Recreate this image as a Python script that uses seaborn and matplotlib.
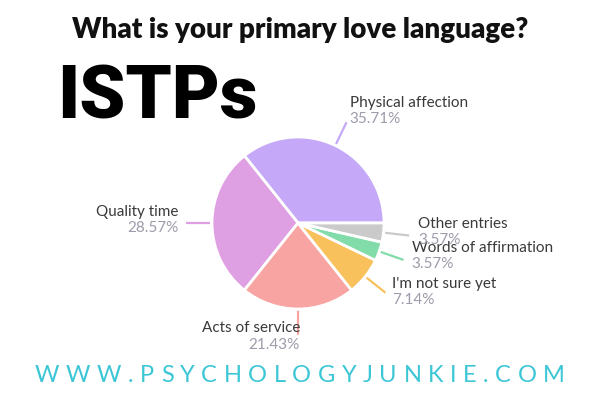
import numpy as np
import matplotlib
matplotlib.use("Agg")
import matplotlib.pyplot as plt
import seaborn as sns

# data
labels = ["Physical affection", "Quality time", "Acts of service",
          "I'm not sure yet", "Words of affirmation", "Other entries"]
shares = [35.71, 28.57, 21.43, 7.14, 3.57, 3.57]
colors = ["#c5a8f7", "#dea0e2", "#f8a4a2", "#f9c15c", "#82dca9", "#cacaca"]

title = "What is your primary love language?"
big_label = "ISTPs"
footer = "WWW.PSYCHOLOGYJUNKIE.COM"

# label text offsets (pixels) relative to leader line end: (dx, dy_name, dy_pct, ha)
label_layout = [
    (3, 19, 3, "left"),
    (-8, 11, -5, "right"),
    (2, 7, -10, "right"),
    (7, 9, -7, "left"),
    (8, 12, -4, "left"),
    (9, 12, -4, "left"),
]

sns.set_theme(style="white")
plt.rcParams["font.family"] = ["Lato", "DejaVu Sans"]

fig = plt.figure(figsize=(6, 4), dpi=100)
fig.patch.set_facecolor("white")

# pie axes: center (298, 223) px, radius 86 px
ax = fig.add_axes([(298 - 86) / 600, (177 - 86) / 400, 172 / 600, 172 / 400])
wedges, _ = ax.pie(shares, colors=colors, startangle=0, counterclock=True,
                   radius=1, wedgeprops=dict(edgecolor="white", linewidth=2))
ax.set_xlim(-1, 1)
ax.set_ylim(-1, 1)
ax.set_aspect("equal")
ax.axis("off")

for w, lab, val, col, (dx, dyn, dyp, ha) in zip(wedges, labels, shares, colors, label_layout):
    mid = np.deg2rad((w.theta1 + w.theta2) / 2)
    x0, y0 = np.cos(mid), np.sin(mid)
    x1, y1 = 1.3 * x0, 1.3 * y0
    ax.plot([1.02 * x0, x1], [1.02 * y0, y1], color=col, lw=1.6,
            clip_on=False, solid_capstyle="butt")
    ax.annotate(lab, (x1, y1), xytext=(dx, dyn), textcoords="offset pixels",
                ha=ha, va="center", fontsize=11, color="#3a3a3a",
                annotation_clip=False)
    ax.annotate(f"{val:.2f}%", (x1, y1), xytext=(dx, dyp), textcoords="offset pixels",
                ha=ha, va="center", fontsize=11, color="#9c9cab",
                annotation_clip=False)

fig.text(0.5, 1 - 30 / 400, title, ha="center", va="center",
         fontsize=20, fontweight="heavy", color="#111111")
fig.text(57 / 600, 1 - 98 / 400, big_label, ha="left", va="center",
         fontsize=53, fontweight="heavy", color="#000000",
         family=["Roboto", "DejaVu Sans"])

# footer with wide letter spacing, spanning x 35..565 px
renderer = fig.canvas.get_renderer()
chars = [fig.text(0, 1 - 375 / 400, c, ha="left", va="center",
                  fontsize=17, color="#3cc6d6") for c in footer]
widths = [t.get_window_extent(renderer).width for t in chars]
track = (530 - sum(widths)) / (len(chars) - 1)
x = 35.0
for t, wdt in zip(chars, widths):
    t.set_x(x / 600)
    x += wdt + track

fig.savefig("out.png", dpi=100, facecolor="white")
